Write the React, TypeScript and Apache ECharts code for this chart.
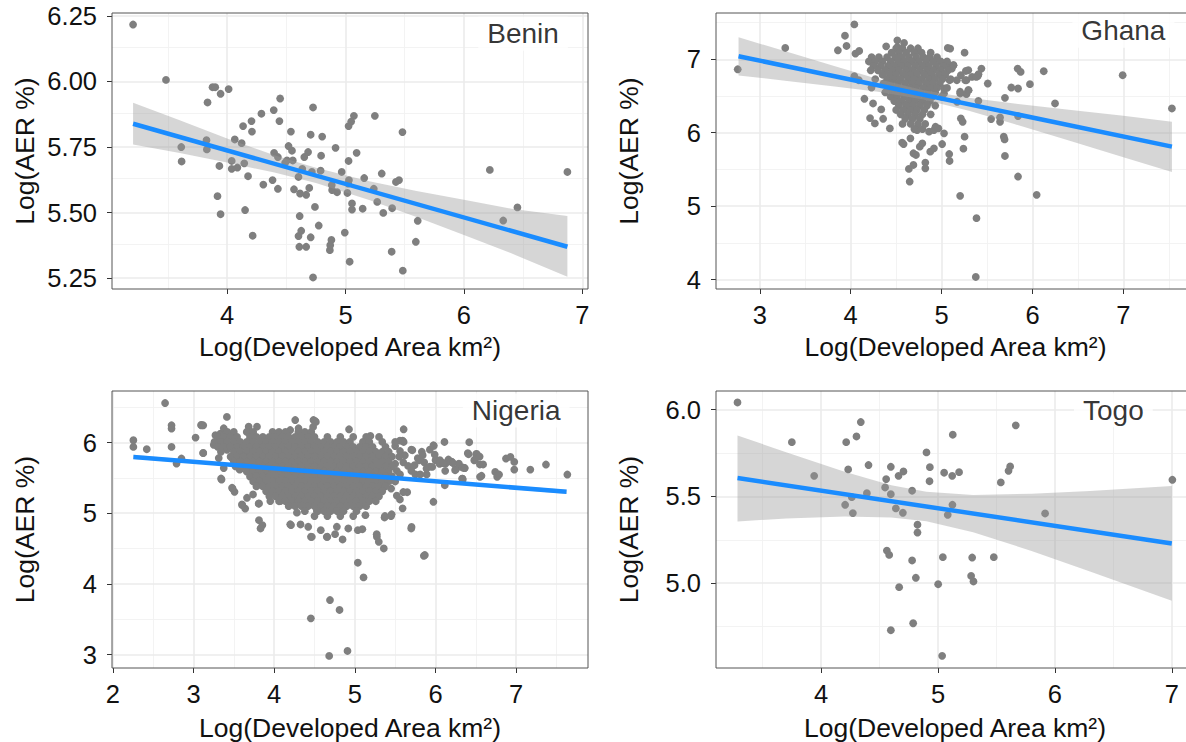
import { useEffect, useRef } from 'react';
import * as echarts from 'echarts';

type Pt = [number, number];
type Row = [number, number[]];
type BandPt = [number, number, number]; // x, lower, upper

// ---------------- Benin ----------------
const beninPoints: Pt[] = [
  [3.206, 6.217], [3.484, 6.006], [3.877, 5.978], [3.9, 5.978], [4.013, 5.971], [3.945, 5.953], [3.835, 5.92],
  [4.448, 5.935], [4.29, 5.877], [4.394, 5.891], [4.726, 5.901], [4.206, 5.849], [4.442, 5.849], [4.135, 5.83],
  [4.21, 5.809], [4.539, 5.809], [4.706, 5.797], [4.803, 5.79], [5.071, 5.869], [5.048, 5.847], [5.026, 5.83],
  [5.248, 5.869], [5.481, 5.807], [3.826, 5.776], [3.829, 5.741], [3.613, 5.75], [3.616, 5.695], [4.065, 5.779],
  [4.123, 5.765], [3.935, 5.678], [4.039, 5.697], [4.039, 5.667], [4.087, 5.672], [4.145, 5.688], [4.177, 5.639],
  [4.397, 5.728], [4.429, 5.712], [4.519, 5.754], [4.548, 5.736], [4.506, 5.699], [4.555, 5.699], [4.652, 5.712],
  [4.684, 5.731], [4.794, 5.717], [4.916, 5.747], [5.094, 5.728], [5.026, 5.697], [4.635, 5.667], [4.603, 5.636],
  [4.716, 5.655], [4.79, 5.66], [4.968, 5.655], [5.029, 5.624], [5.158, 5.632], [5.306, 5.649], [5.426, 5.617],
  [5.452, 5.624], [4.306, 5.607], [4.384, 5.624], [4.429, 5.591], [4.565, 5.589], [4.616, 5.573], [4.668, 5.568],
  [4.694, 5.594], [4.884, 5.605], [4.929, 5.578], [5.016, 5.575], [5.239, 5.591], [3.919, 5.563], [3.945, 5.494],
  [4.152, 5.51], [4.216, 5.412], [4.613, 5.487], [4.742, 5.522], [4.774, 5.451], [5.055, 5.535], [5.055, 5.512],
  [5.145, 5.515], [5.268, 5.541], [5.319, 5.499], [5.394, 5.517], [5.61, 5.469], [4.603, 5.411], [4.626, 5.431],
  [4.706, 5.406], [4.61, 5.37], [4.668, 5.37], [4.881, 5.396], [4.868, 5.357], [4.871, 5.376], [4.994, 5.424],
  [5.594, 5.389], [5.39, 5.351], [5.035, 5.313], [5.484, 5.279], [4.726, 5.253], [6.219, 5.663], [6.332, 5.47],
  [6.452, 5.52], [6.874, 5.655], [4.49, 5.69], [5.023, 5.611], [4.887, 5.586],
];
const beninFit: Pt[] = [[3.206, 5.839], [6.874, 5.37]];
const beninBand: BandPt[] = [
  [3.206, 5.76, 5.919], [3.6, 5.727, 5.852], [4.0, 5.691, 5.783], [4.4, 5.653, 5.719], [4.75, 5.613, 5.671],
  [5.2, 5.548, 5.62], [5.6, 5.483, 5.583], [6.0, 5.415, 5.549], [6.4, 5.345, 5.515], [6.874, 5.256, 5.487],
];
const beninXTicks = [4, 5, 6, 7];
const beninXMinor = [3.5, 4.5, 5.5, 6.5];
const beninYTicks = [5.25, 5.5, 5.75, 6.0, 6.25];
const beninYMinor = [5.375, 5.625, 5.875, 6.125];

// ---------------- Ghana ----------------
const ghanaPoints: Pt[] = [
  [2.757, 6.864], [3.28, 7.154], [3.859, 7.122], [3.937, 7.321], [4.04, 7.475], [3.954, 7.181], [4.052, 7.077],
  [4.094, 7.113], [4.151, 6.462], [4.213, 6.199], [4.266, 6.127], [4.336, 6.317], [4.357, 6.19], [4.431, 6.059],
  [4.04, 6.769], [4.089, 6.715], [4.229, 6.615], [4.246, 6.398], [4.39, 7.176], [4.513, 7.258], [4.587, 7.222],
  [4.513, 7.167], [4.566, 5.864], [4.582, 5.846], [4.657, 5.923], [4.69, 5.72], [4.718, 5.697], [4.64, 5.507],
  [4.69, 5.561], [4.649, 5.335], [4.76, 5.81], [4.788, 5.855], [4.821, 5.593], [4.821, 5.516], [4.875, 5.742],
  [4.916, 5.787], [4.862, 6.014], [4.916, 6.036], [4.965, 6.059], [5.006, 5.846], [5.027, 5.991], [5.084, 5.71],
  [5.088, 5.615], [5.204, 5.14], [5.253, 5.946], [5.24, 5.783], [5.212, 6.195], [5.232, 6.149], [5.384, 4.837],
  [5.376, 4.036], [5.405, 6.434], [5.397, 6.769], [5.438, 6.873], [5.508, 6.67], [5.545, 6.186], [5.643, 6.208],
  [5.643, 6.149], [5.684, 5.946], [5.693, 5.909], [5.697, 5.683], [5.697, 6.475], [5.767, 6.615], [5.837, 6.873],
  [5.87, 6.828], [5.841, 6.602], [5.841, 6.226], [5.841, 5.403], [5.972, 6.661], [6.046, 5.154], [6.124, 6.837],
  [6.248, 6.398], [6.992, 6.783], [7.534, 6.33], [5.068, 7.154], [5.253, 7.09], [5.068, 6.928], [5.13, 6.919],
  [5.212, 6.783], [5.294, 6.851], [5.273, 6.715], [5.335, 6.76], [5.204, 6.557], [5.294, 6.579], [5.273, 6.525],
  [5.171, 6.421], [5.027, 6.602], [5.027, 6.534], [5.088, 6.715], [5.267, 6.841], [5.26, 6.715], [5.297, 6.579],
  [5.205, 6.534], [5.381, 6.76], [5.406, 6.796], [5.131, 6.919], [5.113, 6.874], [5.168, 6.715], [5.095, 7.145],
  [4.731, 6.036], [4.933, 6.081],
];
// dense core of the Ghana cloud, listed row by row: [y, x values]
const ghanaCoreRows: Row[] = [
  [7.15, [4.5, 4.57, 4.66, 4.74]],
  [7.09, [4.45, 4.53, 4.61, 4.7, 4.78, 4.88]],
  [7.03, [4.23, 4.31, 4.4, 4.49, 4.56, 4.64, 4.72, 4.8, 4.87, 4.95]],
  [6.97, [4.2, 4.27, 4.35, 4.44, 4.52, 4.59, 4.67, 4.75, 4.83, 4.91, 4.99, 5.06]],
  [6.91, [4.25, 4.33, 4.41, 4.48, 4.56, 4.63, 4.71, 4.79, 4.86, 4.94, 5.02]],
  [6.85, [4.22, 4.3, 4.38, 4.46, 4.53, 4.61, 4.68, 4.76, 4.84, 4.91, 4.99, 5.07]],
  [6.79, [4.35, 4.43, 4.5, 4.58, 4.66, 4.73, 4.81, 4.89, 4.97, 5.04]],
  [6.73, [4.27, 4.4, 4.47, 4.55, 4.63, 4.7, 4.78, 4.86, 4.93, 5.01, 5.1]],
  [6.67, [4.36, 4.44, 4.52, 4.6, 4.68, 4.75, 4.83, 4.9, 4.98]],
  [6.61, [4.41, 4.49, 4.57, 4.65, 4.72, 4.8, 4.88, 4.95, 5.06]],
  [6.55, [4.38, 4.46, 4.54, 4.62, 4.7, 4.77, 4.85, 4.93]],
  [6.49, [4.44, 4.51, 4.59, 4.67, 4.74, 4.82, 4.9, 5.0]],
  [6.43, [4.48, 4.56, 4.64, 4.71, 4.79, 4.87]],
  [6.37, [4.53, 4.61, 4.68, 4.76, 4.84, 4.93]],
  [6.31, [4.5, 4.58, 4.66, 4.73, 4.81]],
  [6.25, [4.55, 4.63, 4.71, 4.79, 4.88]],
  [6.19, [4.6, 4.68, 4.76]],
  [6.12, [4.57, 4.66, 4.74, 4.82]],
  [6.05, [4.7, 4.79]],
];
const ghanaFit: Pt[] = [[2.766, 7.041], [7.534, 5.81]];
const ghanaBand: BandPt[] = [
  [2.766, 6.78, 7.3], [3.3, 6.705, 7.101], [3.8, 6.634, 6.914], [4.3, 6.557, 6.733], [4.8, 6.453, 6.579],
  [5.3, 6.299, 6.475], [5.8, 6.118, 6.398], [6.4, 5.893, 6.313], [7.0, 5.665, 6.231], [7.534, 5.465, 6.15],
];
const ghanaXTicks = [3, 4, 5, 6, 7];
const ghanaXMinor = [3.5, 4.5, 5.5, 6.5, 7.5];
const ghanaYTicks = [4, 5, 6, 7];
const ghanaYMinor = [4.5, 5.5, 6.5, 7.5];

// ---------------- Nigeria ----------------
const nigeriaPoints: Pt[] = [
  [2.255, 6.033], [2.255, 5.939], [2.421, 5.906], [2.648, 6.56], [2.728, 6.245], [2.728, 6.198], [2.728, 5.939],
  [2.79, 5.703], [2.851, 5.774], [3.026, 6.071], [3.097, 6.245], [3.121, 6.245], [3.121, 5.854], [3.272, 6.104],
  [3.334, 6.127], [3.414, 6.363], [3.348, 5.477], [3.485, 5.35], [3.509, 5.303], [3.604, 5.114], [3.641, 5.067],
  [3.812, 5.138], [3.812, 4.902], [3.854, 4.832], [3.831, 4.785], [3.095, 6.249], [3.12, 5.851], [3.251, 5.968],
  [3.375, 6.202], [3.354, 6.062], [3.478, 5.781], [3.342, 5.491], [3.478, 5.36], [3.601, 5.126], [3.663, 5.219],
  [3.738, 5.266], [3.808, 5.135], [3.52, 5.664], [3.573, 5.617], [3.375, 5.64], [3.313, 5.781], [3.416, 5.898],
  [3.684, 6.225], [3.787, 6.225], [3.726, 6.062],
  [4.209, 4.832], [4.327, 4.841], [4.422, 4.808], [4.456, 4.667], [4.578, 4.761], [4.659, 4.667], [4.777, 4.808],
  [4.848, 4.629], [4.919, 4.785], [5.037, 4.761], [5.131, 4.973], [5.273, 4.667], [5.297, 4.596], [5.359, 4.502],
  [5.368, 4.94], [5.448, 4.959], [5.037, 4.3], [5.108, 4.092], [4.692, 3.772], [4.81, 3.631], [4.455, 3.513],
  [4.682, 2.981], [4.909, 3.051], [4.199, 4.844], [4.467, 4.666], [4.652, 4.666], [4.282, 5.008], [4.529, 5.032],
  [4.076, 5.172], [3.952, 5.172], [5.093, 4.774], [5.271, 4.704], [4.755, 4.704],
  [4.928, 6.188], [4.517, 6.292], [4.483, 6.221], [5.193, 6.094], [5.559, 6.028], [5.592, 6.028], [5.979, 5.954],
  [4.261, 6.319], [4.302, 6.202], [4.487, 6.319], [4.199, 6.178], [4.508, 6.305],
  [5.559, 5.195], [5.592, 5.069], [5.649, 5.298], [5.373, 4.961], [5.456, 4.985],
  [5.5, 5.95], [5.56, 5.88], [5.62, 5.82], [5.7, 5.9], [5.78, 5.78], [5.83, 5.87], [5.86, 5.72], [5.93, 5.66],
  [5.93, 5.9], [5.99, 5.83], [6.0, 5.75], [6.05, 5.7], [6.09, 5.71], [6.12, 5.6], [6.16, 5.76], [6.2, 5.73],
  [6.25, 5.62], [6.3, 5.66], [6.33, 5.49], [6.36, 5.64], [6.4, 5.85], [6.49, 5.76], [6.51, 5.84], [6.55, 5.69],
  [5.55, 5.8], [5.6, 5.72], [5.66, 5.67], [5.7, 5.6], [5.75, 5.55], [5.81, 5.55], [5.89, 5.55], [5.74, 5.68],
  [5.52, 5.6], [5.5, 5.7], [5.56, 5.55], [5.5, 5.45], [5.45, 5.35], [5.52, 5.25], [5.6, 5.3], [5.37, 5.46],
  [5.794, 5.75], [5.888, 5.633], [5.959, 5.656], [6.054, 5.75], [6.125, 5.703], [6.196, 5.727], [6.29, 5.703],
  [6.243, 5.609], [6.338, 5.647], [6.094, 5.711], [6.218, 5.711], [6.362, 5.64], [6.334, 5.49],
  [6.74, 5.585], [6.764, 5.515], [6.788, 5.548], [6.873, 5.774], [6.976, 5.727], [6.976, 5.618], [6.929, 5.797],
  [7.175, 5.618], [7.369, 5.689], [7.634, 5.548], [6.418, 6.005], [6.409, 5.835], [6.503, 5.835], [6.48, 5.75],
  [6.551, 5.515], [6.338, 5.477], [6.115, 5.397], [6.111, 6.009], [5.974, 5.962], [5.974, 5.162], [5.855, 4.398],
  [5.699, 4.785], [5.605, 6.009], [5.605, 6.188], [5.713, 5.892], [5.841, 5.821], [6.547, 5.803], [6.59, 5.69],
  [6.57, 5.53], [5.868, 4.409], [5.703, 4.806],
];
// solid body of the Nigeria cloud, listed row by row: [y, x values]
const nigeriaCoreRows: Row[] = [
  [6.15, [3.42, 3.5, 3.66, 3.74, 3.98, 4.06, 4.14, 4.3, 4.38, 4.46]],
  [6.08, [3.3, 3.38, 3.46, 3.54, 3.7, 3.78, 3.86, 3.94, 4.02, 4.1, 4.18, 4.26, 4.34, 4.42, 4.5, 4.66, 4.82, 4.98, 5.14, 5.3]],
  [6.01, [3.26, 3.34, 3.42, 3.5, 3.58, 3.66, 3.74, 3.82, 3.9, 3.98, 4.06, 4.14, 4.22, 4.3, 4.38, 4.46, 4.54, 4.62, 4.7, 4.78, 4.86, 4.94, 5.1, 5.18, 5.34, 5.5]],
  [5.94, [3.3, 3.38, 3.46, 3.54, 3.62, 3.7, 3.78, 3.86, 3.94, 4.02, 4.1, 4.18, 4.26, 4.34, 4.42, 4.5, 4.58, 4.66, 4.74, 4.82, 4.9, 4.98, 5.06, 5.14, 5.22, 5.38]],
  [5.87, [3.34, 3.5, 3.58, 3.66, 3.74, 3.82, 3.9, 3.98, 4.06, 4.14, 4.22, 4.3, 4.38, 4.46, 4.54, 4.62, 4.7, 4.78, 4.86, 4.94, 5.02, 5.1, 5.18, 5.26, 5.34, 5.42]],
  [5.8, [3.46, 3.54, 3.62, 3.7, 3.78, 3.86, 3.94, 4.02, 4.1, 4.18, 4.26, 4.34, 4.42, 4.5, 4.58, 4.66, 4.74, 4.82, 4.9, 4.98, 5.06, 5.14, 5.22, 5.3, 5.38, 5.46]],
  [5.73, [3.5, 3.58, 3.66, 3.74, 3.82, 3.9, 3.98, 4.06, 4.14, 4.22, 4.3, 4.38, 4.46, 4.54, 4.62, 4.7, 4.78, 4.86, 4.94, 5.02, 5.1, 5.18, 5.26, 5.34, 5.42]],
  [5.66, [3.54, 3.62, 3.7, 3.78, 3.86, 3.94, 4.02, 4.1, 4.18, 4.26, 4.34, 4.42, 4.5, 4.58, 4.66, 4.74, 4.82, 4.9, 4.98, 5.06, 5.14, 5.22, 5.3, 5.38, 5.46]],
  [5.59, [3.66, 3.74, 3.82, 3.9, 3.98, 4.06, 4.14, 4.22, 4.3, 4.38, 4.46, 4.54, 4.62, 4.7, 4.78, 4.86, 4.94, 5.02, 5.1, 5.18, 5.26, 5.34, 5.42]],
  [5.52, [3.7, 3.78, 3.86, 3.94, 4.02, 4.1, 4.18, 4.26, 4.34, 4.42, 4.5, 4.58, 4.66, 4.74, 4.82, 4.9, 4.98, 5.06, 5.14, 5.22, 5.3, 5.38, 5.46]],
  [5.45, [3.74, 3.82, 3.9, 3.98, 4.06, 4.14, 4.22, 4.3, 4.38, 4.46, 4.54, 4.62, 4.7, 4.78, 4.86, 4.94, 5.02, 5.1, 5.18, 5.26, 5.34, 5.42]],
  [5.38, [3.78, 3.86, 3.94, 4.02, 4.1, 4.18, 4.26, 4.34, 4.42, 4.5, 4.58, 4.66, 4.74, 4.82, 4.9, 4.98, 5.06, 5.14, 5.22, 5.3, 5.38]],
  [5.31, [3.9, 3.98, 4.06, 4.14, 4.22, 4.3, 4.38, 4.46, 4.54, 4.62, 4.7, 4.78, 4.86, 4.94, 5.02, 5.1, 5.18, 5.26, 5.34]],
  [5.24, [3.94, 4.02, 4.1, 4.18, 4.26, 4.34, 4.42, 4.5, 4.58, 4.66, 4.74, 4.82, 4.9, 4.98, 5.06, 5.14, 5.22, 5.3]],
  [5.17, [4.06, 4.14, 4.22, 4.3, 4.38, 4.46, 4.54, 4.62, 4.7, 4.78, 4.86, 4.94, 5.02, 5.1, 5.18, 5.26]],
  [5.1, [4.18, 4.26, 4.34, 4.42, 4.5, 4.58, 4.66, 4.74, 4.82, 4.9, 4.98, 5.06, 5.14]],
  [5.03, [4.38, 4.54, 4.62, 4.7, 4.78, 4.86, 5.02]],
  [4.96, [4.5, 4.66, 4.82, 4.98]],
];
const nigeriaFit: Pt[] = [[2.255, 5.797], [7.624, 5.303]];
const nigeriaBand: BandPt[] = [
  [2.255, 5.767, 5.827], [3.5, 5.665, 5.699], [4.6, 5.572, 5.59], [5.8, 5.454, 5.488], [7.624, 5.273, 5.333],
];
const nigeriaXTicks = [2, 3, 4, 5, 6, 7];
const nigeriaXMinor = [2.5, 3.5, 4.5, 5.5, 6.5, 7.5];
const nigeriaYTicks = [3, 4, 5, 6];
const nigeriaYMinor = [3.5, 4.5, 5.5, 6.5];

// ---------------- Togo ----------------
const togoPoints: Pt[] = [
  [3.284, 6.042], [3.749, 5.813], [3.94, 5.619], [4.214, 5.813], [4.302, 5.846], [4.339, 5.929], [4.231, 5.656],
  [4.405, 5.681], [4.205, 5.452], [4.262, 5.496], [4.271, 5.404], [4.391, 5.519], [4.556, 5.6], [4.547, 5.552],
  [4.596, 5.671], [4.596, 5.513], [4.662, 5.619], [4.704, 5.644], [4.639, 5.431], [4.699, 5.406], [4.778, 5.533],
  [4.901, 5.754], [4.93, 5.669], [4.927, 5.588], [4.824, 5.337], [4.824, 5.292], [5.126, 5.856], [5.052, 5.637],
  [5.121, 5.619], [5.18, 5.64], [5.123, 5.452], [5.083, 5.394], [5.665, 5.91], [5.617, 5.673], [5.603, 5.648],
  [5.537, 5.581], [5.916, 5.402], [7.005, 5.596], [4.562, 5.188], [4.582, 5.163], [4.778, 5.131], [5.041, 5.15],
  [5.292, 5.148], [5.477, 5.15], [4.81, 5.031], [4.667, 4.977], [5.001, 4.994], [5.283, 5.042], [5.303, 5.01],
  [4.596, 4.729], [4.787, 4.769], [5.035, 4.581],
];
const togoFit: Pt[] = [[3.284, 5.606], [7.0, 5.229]];
const togoBand: BandPt[] = [
  [3.284, 5.356, 5.852], [3.7, 5.373, 5.755], [4.2, 5.384, 5.642], [4.6, 5.379, 5.565], [4.9, 5.357, 5.527],
  [5.3, 5.293, 5.509], [5.8, 5.186, 5.516], [6.3, 5.068, 5.532], [7.0, 4.898, 5.56],
];
const togoXTicks = [4, 5, 6, 7];
const togoXMinor = [3.5, 4.5, 5.5, 6.5];
const togoYTicks = [5.0, 5.5, 6.0];
const togoYMinor = [4.75, 5.25, 5.75];

const countryNames = ['Benin', 'Ghana', 'Nigeria', 'Togo'];
const countryLabelAt: Pt[] = [[6.5, 6.182], [7.0, 7.39], [7.0, 6.455], [6.5, 5.997]];

const X_TITLE = 'Log(Developed Area km²)';
const Y_TITLE = 'Log(AER %)';

const rowsToPoints = (rows: Row[]): Pt[] => rows.flatMap(([y, xs]) => xs.map((x) => [x, y] as Pt));

// layout of the four panels (pixel boxes and axis extents); the right-hand
// panels run past the visible window edge, so their right border is cut off
const panels = [
  {
    points: beninPoints, fit: beninFit, band: beninBand,
    box: [112, 13, 476, 276], xRange: [3.028, 7.048], yRange: [5.209, 6.261],
    xTicks: beninXTicks, xMinor: beninXMinor, yTicks: beninYTicks, yMinor: beninYMinor, digits: 2, xGap: 44,
  },
  {
    points: [...ghanaPoints, ...rowsToPoints(ghanaCoreRows)], fit: ghanaFit, band: ghanaBand,
    box: [716, 13, 479, 276], xRange: [2.518, 7.788], yRange: [3.872, 7.63],
    xTicks: ghanaXTicks, xMinor: ghanaXMinor, yTicks: ghanaYTicks, yMinor: ghanaYMinor, digits: 0, xGap: 44,
  },
  {
    points: [...nigeriaPoints, ...rowsToPoints(nigeriaCoreRows)], fit: nigeriaFit, band: nigeriaBand,
    box: [112, 391, 476, 278], xRange: [1.99, 7.89], yRange: [2.81, 6.73],
    xTicks: nigeriaXTicks, xMinor: nigeriaXMinor, yTicks: nigeriaYTicks, yMinor: nigeriaYMinor, digits: 0, xGap: 46,
  },
  {
    points: togoPoints, fit: togoFit, band: togoBand,
    box: [716, 391, 478, 277], xRange: [3.1, 7.19], yRange: [4.511, 6.108],
    xTicks: togoXTicks, xMinor: togoXMinor, yTicks: togoYTicks, yMinor: togoYMinor, digits: 1, xGap: 46,
  },
];

const FONT = "'Liberation Sans', Arial, Helvetica, sans-serif";
const TEXT = '#111111';
const POINT = '#7f7f7f';
const BLUE = '#1a8cff';
const BAND = 'rgba(153,153,153,0.4)';
const MAJOR = { color: '#ebebeb', width: 1.6, type: 'solid' };
const MINOR = { color: '#f2f2f2', width: 0.9, type: 'solid' };

function buildOption() {
  const grid: any[] = [];
  const xAxis: any[] = [];
  const yAxis: any[] = [];
  const series: any[] = [];

  panels.forEach((p, i) => {
    const [left, top, width, height] = p.box;
    grid.push({
      left, top, width, height, show: true, z: 20,
      backgroundColor: 'transparent', borderColor: '#555555', borderWidth: 1,
    });

    xAxis.push({
      type: 'value', gridIndex: i, min: p.xRange[0], max: p.xRange[1],
      axisLine: { show: false },
      axisTick: { show: true, length: 5, lineStyle: { color: '#333333', width: 1 }, customValues: p.xTicks },
      axisLabel: { customValues: p.xTicks, fontSize: 25.5, color: TEXT, margin: 13, fontFamily: FONT, formatter: (v: number) => String(v) },
      splitLine: { show: false },
      name: X_TITLE, nameLocation: 'middle', nameGap: p.xGap,
      nameTextStyle: { fontSize: 26.5, color: TEXT, fontFamily: FONT },
    });

    yAxis.push({
      type: 'value', gridIndex: i, min: p.yRange[0], max: p.yRange[1],
      axisLine: { show: false },
      axisTick: { show: true, length: 5, lineStyle: { color: '#333333', width: 1 }, customValues: p.yTicks },
      axisLabel: { customValues: p.yTicks, fontSize: 25.5, color: TEXT, margin: 15, fontFamily: FONT, formatter: (v: number) => v.toFixed(p.digits) },
      splitLine: { show: false },
      name: Y_TITLE, nameLocation: 'middle', nameGap: 74, nameRotate: 90,
      nameTextStyle: { fontSize: 26.5, color: TEXT, fontFamily: FONT },
    });

    const gridLines = [
      ...p.xMinor.map((v) => ({ xAxis: v, lineStyle: MINOR })),
      ...p.yMinor.map((v) => ({ yAxis: v, lineStyle: MINOR })),
      ...p.xTicks.map((v) => ({ xAxis: v, lineStyle: MAJOR })),
      ...p.yTicks.map((v) => ({ yAxis: v, lineStyle: MAJOR })),
    ];

    series.push({
      type: 'scatter', xAxisIndex: i, yAxisIndex: i, z: 10, silent: true,
      symbol: 'circle', symbolSize: 7.8, itemStyle: { color: POINT, opacity: 1 },
      data: p.points,
      markLine: {
        z: 1, silent: true, symbol: ['none', 'none'], label: { show: false },
        emphasis: { disabled: true }, data: gridLines,
      },
    });

    const band = p.band;
    series.push({
      type: 'custom', xAxisIndex: i, yAxisIndex: i, z: 11, silent: true,
      data: [[band[0][0], band[0][1]]],
      renderItem: (_params: any, api: any) => {
        const upper = band.map((b) => api.coord([b[0], b[2]]));
        const lower = band.slice().reverse().map((b) => api.coord([b[0], b[1]]));
        return { type: 'polygon', shape: { points: [...upper, ...lower] }, style: { fill: BAND } };
      },
    });

    series.push({
      type: 'line', xAxisIndex: i, yAxisIndex: i, z: 12, silent: true,
      symbol: 'none', showSymbol: false, data: p.fit,
      lineStyle: { color: BLUE, width: 4.5 },
    });

    series.push({
      type: 'scatter', xAxisIndex: i, yAxisIndex: i, z: 13, silent: true,
      symbolSize: 1, itemStyle: { color: 'rgba(0,0,0,0)' },
      data: [countryLabelAt[i]],
      label: {
        show: true, position: 'inside', formatter: countryNames[i],
        fontSize: 28, color: '#000000', fontFamily: FONT,
        backgroundColor: '#ffffff', padding: [3, 9],
      },
    });
  });

  return {
    animation: false,
    backgroundColor: '#ffffff',
    textStyle: { fontFamily: FONT },
    grid, xAxis, yAxis, series,
  };
}

export default function App() {
  const ref = useRef<HTMLDivElement>(null);
  useEffect(() => {
    if (!ref.current) return;
    const chart = echarts.init(ref.current, undefined, { renderer: 'svg' });
    chart.setOption(buildOption() as any);
    return () => chart.dispose();
  }, []);
  return (
    <div
      ref={ref}
      style={{ position: 'fixed', left: 0, top: 0, width: 1200, height: 742, background: '#ffffff' }}
    />
  );
}
